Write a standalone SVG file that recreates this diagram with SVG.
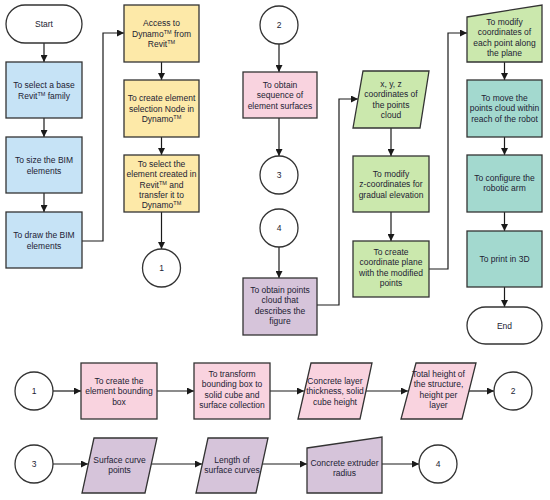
<svg xmlns="http://www.w3.org/2000/svg" width="550" height="500" viewBox="0 0 550 500">
<defs>
<marker id="ah" viewBox="0 0 10 10" refX="10" refY="5" markerWidth="7" markerHeight="7" orient="auto" markerUnits="userSpaceOnUse"><path d="M0,0 L10,5 L0,10 z" fill="#1a1a1a"/></marker>
<style>
.s{stroke:#333;stroke-width:1.3}
.blue{fill:#c6e3f6}
.yel{fill:#fde9a8}
.pink{fill:#f9d3df}
.pur{fill:#d6c4da}
.grn{fill:#cbe8ad}
.teal{fill:#a3d9cf}
.wht{fill:#fff}
text{font-family:"Liberation Sans",Arial,sans-serif;font-size:8.5px;fill:#222233;text-anchor:middle}
.tm{font-size:5.5px}
.c line,.c path{stroke:#1a1a1a;stroke-width:1.2;fill:none;marker-end:url(#ah)}
</style>
</defs>
<rect width="550" height="500" fill="#fff"/>

<g class="c" id="connectors">
<line x1="44" y1="43" x2="44" y2="62"/>
<line x1="44" y1="118" x2="44" y2="137"/>
<line x1="44" y1="193" x2="44" y2="212"/>
<path d="M82,241 H103 V33 H124"/>
<line x1="161.5" y1="62" x2="161.5" y2="80"/>
<line x1="161.5" y1="137" x2="161.5" y2="155"/>
<line x1="161.5" y1="212" x2="161.5" y2="249"/>
<line x1="279" y1="44" x2="279" y2="72"/>
<line x1="279" y1="118" x2="279" y2="156"/>
<line x1="279" y1="247" x2="279" y2="278"/>
<path d="M317,305 H339 V99 H358"/>
<line x1="391" y1="128" x2="391" y2="156"/>
<line x1="391" y1="212" x2="391" y2="241"/>
<path d="M429,269 H448 V33 H467"/>
<line x1="504.5" y1="62" x2="504.5" y2="80"/>
<line x1="504.5" y1="137" x2="504.5" y2="155"/>
<line x1="504.5" y1="212" x2="504.5" y2="231"/>
<line x1="504.5" y1="287" x2="504.5" y2="307"/>
<line x1="53" y1="391" x2="81" y2="391"/>
<line x1="157" y1="391" x2="194" y2="391"/>
<line x1="270" y1="391" x2="304" y2="391"/>
<line x1="366" y1="391" x2="408" y2="391"/>
<line x1="468" y1="391" x2="494" y2="391"/>
<line x1="53" y1="464" x2="88" y2="464"/>
<line x1="151" y1="464" x2="202" y2="464"/>
<line x1="262" y1="464" x2="307" y2="464"/>
<line x1="382" y1="464" x2="419" y2="464"/>
</g>

<g id="start"><rect class="s wht" x="6" y="5" width="76" height="38" rx="19"/><text x="44" y="27">Start</text></g>
<g id="b1"><rect class="s blue" x="6" y="62" width="76" height="56"/><text x="44" y="88">To select a base</text><text x="44" y="98.5">Revit<tspan class="tm" dy="-3">TM</tspan><tspan dy="3"> family</tspan></text></g>
<g id="b2"><rect class="s blue" x="6" y="137" width="76" height="56"/><text x="44" y="163">To size the BIM</text><text x="44" y="173.5">elements</text></g>
<g id="b3"><rect class="s blue" x="6" y="212" width="76" height="56"/><text x="44" y="238">To draw the BIM</text><text x="44" y="248.5">elements</text></g>

<g id="y1"><rect class="s yel" x="124" y="5" width="75" height="57"/><text x="161.5" y="26">Access to</text><text x="161.5" y="36.5">Dynamo<tspan class="tm" dy="-3">TM</tspan><tspan dy="3"> from</tspan></text><text x="161.5" y="47">Revit<tspan class="tm" dy="-3">TM</tspan></text></g>
<g id="y2"><rect class="s yel" x="124" y="80" width="75" height="57"/><text x="161.5" y="101">To create element</text><text x="161.5" y="111.5">selection Node in</text><text x="161.5" y="122">Dynamo<tspan class="tm" dy="-3">TM</tspan></text></g>
<g id="y3"><rect class="s yel" x="124" y="155" width="75" height="57"/><text x="161.5" y="167">To select the</text><text x="161.5" y="177.3">element created in</text><text x="161.5" y="187.6">Revit<tspan class="tm" dy="-3">TM</tspan><tspan dy="3"> and</tspan></text><text x="161.5" y="197.9">transfer it to</text><text x="161.5" y="208.2">Dynamo<tspan class="tm" dy="-3">TM</tspan></text></g>
<g id="c1"><circle class="s wht" cx="161.5" cy="268" r="19"/><text x="161.5" y="271">1</text></g>

<g id="c2"><circle class="s wht" cx="279" cy="25" r="19"/><text x="279" y="28">2</text></g>
<g id="p1"><rect class="s pink" x="243" y="72" width="74" height="46"/><text x="280" y="88">To obtain</text><text x="280" y="98.3">sequence of</text><text x="280" y="108.6">element surfaces</text></g>
<g id="c3"><circle class="s wht" cx="279" cy="175" r="19"/><text x="279" y="178">3</text></g>
<g id="c4"><circle class="s wht" cx="279" cy="228" r="19"/><text x="279" y="231">4</text></g>
<g id="u1"><rect class="s pur" x="243" y="278" width="74" height="57"/><text x="280" y="293">To obtain points</text><text x="280" y="303.3">cloud that</text><text x="280" y="313.6">describes the</text><text x="280" y="323.9">figure</text></g>

<g id="g1"><polygon class="s grn" points="363,71 429,71 420,128 353,128"/><text x="391" y="87">x, y, z</text><text x="391" y="97.3">coordinates of</text><text x="391" y="107.6">the points</text><text x="391" y="117.9">cloud</text></g>
<g id="g2"><rect class="s grn" x="353" y="156" width="76" height="56"/><text x="391" y="177">To modify</text><text x="391" y="187.3">z-coordinates for</text><text x="391" y="197.6">gradual elevation</text></g>
<g id="g3"><rect class="s grn" x="353" y="241" width="76" height="56"/><text x="391" y="255">To create</text><text x="391" y="265.3">coordinate plane</text><text x="391" y="275.6">with the modified</text><text x="391" y="285.9">points</text></g>

<g id="t0"><polygon class="s grn" points="467,17 542,5 542,62 467,62"/><text x="504.5" y="25">To modify</text><text x="504.5" y="35.3">coordinates of</text><text x="504.5" y="45.6">each point along</text><text x="504.5" y="55.9">the plane</text></g>
<g id="t1"><rect class="s teal" x="467" y="80" width="75" height="57"/><text x="504.5" y="101">To move the</text><text x="504.5" y="111.3">points cloud within</text><text x="504.5" y="121.6">reach of the robot</text></g>
<g id="t2"><rect class="s teal" x="467" y="155" width="75" height="57"/><text x="504.5" y="181">To configure the</text><text x="504.5" y="191.3">robotic arm</text></g>
<g id="t3"><rect class="s teal" x="467" y="231" width="75" height="56"/><text x="504.5" y="262">To print in 3D</text></g>
<g id="end"><rect class="s wht" x="467" y="307" width="75" height="37" rx="18.5"/><text x="504.5" y="328.5">End</text></g>

<g id="r1c1"><circle class="s wht" cx="34" cy="391" r="19"/><text x="34" y="394">1</text></g>
<g id="r1a"><rect class="s pink" x="81" y="363" width="76" height="56"/><text x="119" y="384">To create the</text><text x="119" y="394.3">element bounding</text><text x="119" y="404.6">box</text></g>
<g id="r1b"><rect class="s pink" x="194" y="363" width="76" height="56"/><text x="232" y="377">To transform</text><text x="232" y="387.3">bounding box to</text><text x="232" y="397.6">solid cube and</text><text x="232" y="407.9">surface collection</text></g>
<g id="r1c"><polygon class="s pink" points="311,363 372,363 360,419 298,419"/><text x="335" y="384">Concrete layer</text><text x="335" y="394.3">thickness, solid</text><text x="335" y="404.6">cube height</text></g>
<g id="r1d"><polygon class="s pink" points="416,363 476,363 462,419 401,419"/><text x="438.5" y="377">Total height of</text><text x="438.5" y="387.3">the structure,</text><text x="438.5" y="397.6">height per</text><text x="438.5" y="407.9">layer</text></g>
<g id="r1c2"><circle class="s wht" cx="513" cy="391" r="19"/><text x="513" y="394">2</text></g>

<g id="r2c3"><circle class="s wht" cx="34" cy="464" r="19"/><text x="34" y="467">3</text></g>
<g id="r2a"><polygon class="s pur" points="94,438 157,438 145,493 82,493"/><text x="119.5" y="463">Surface curve</text><text x="119.5" y="473.3">points</text></g>
<g id="r2b"><polygon class="s pur" points="208,438 268,438 256,493 196,493"/><text x="232" y="463">Length of</text><text x="232" y="473.3">surface curves</text></g>
<g id="r2c"><polygon class="s pur" points="307,448 382,437 382,493 307,493"/><text x="344.5" y="466">Concrete extruder</text><text x="344.5" y="476.3">radius</text></g>
<g id="r2c4"><circle class="s wht" cx="438" cy="464" r="19"/><text x="438" y="467">4</text></g>
</svg>
